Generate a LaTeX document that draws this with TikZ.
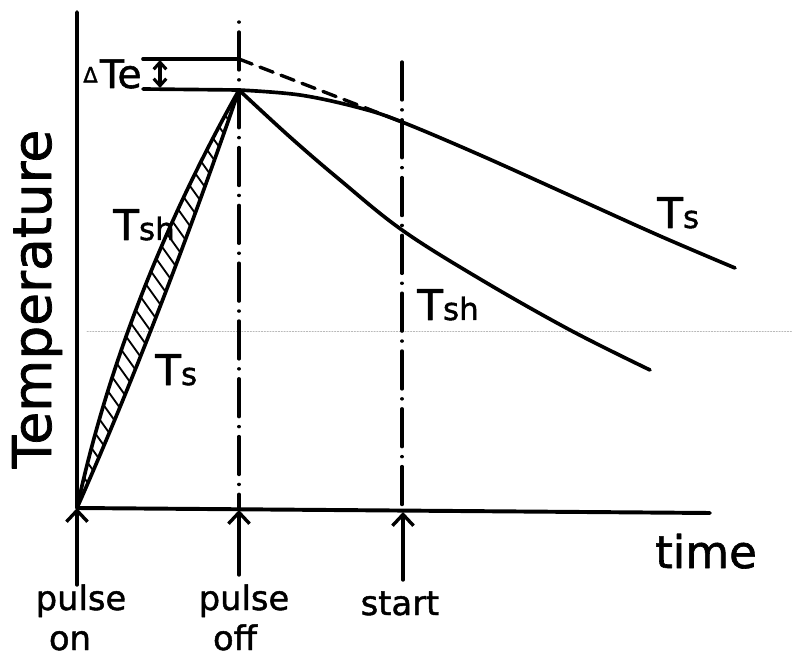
\documentclass[tikz,border=0pt]{standalone}
\usepackage{fontspec}
\setmainfont{DejaVu Sans}[BoldFont={DejaVu Sans}, BoldFeatures={FakeBold=1.4}]
\usetikzlibrary{arrows.meta}

\newcommand{\Tlab}[1]{{\fontsize{30}{30}\selectfont T}{\fontsize{22}{22}\selectfont #1}}

\begin{document}
\begin{tikzpicture}[
  x=0.025cm, y=-0.025cm,
  line cap=round, line join=round,
  every node/.style={font=\bfseries},
  axis/.style={line width=2.8pt},
  curve/.style={line width=2.6pt},
  marker/.style={line width=2.4pt, dash pattern=on 0.1pt off 7pt on 27pt off 7pt},
  event/.style={line width=2.4pt, -{Straight Barb[length=8pt,width=15pt]}},
  hatch/.style={line width=1.3pt},
  tlabel/.style={inner sep=0pt, anchor=base west},
  word/.style={inner sep=0pt, anchor=base, font=\bfseries\fontsize{24}{26}\selectfont}
]
  \useasboundingbox (0,0) rectangle (792,657);

  % scan line
  \draw[gray!55, line width=0.4pt, dash pattern=on 1pt off 1pt] (87,331) -- (792,331);

  \coordinate (origin) at (77,508);
  \coordinate (ytop) at (77,12);
  \coordinate (xend) at (710,513);
  \coordinate (peak) at (239,90);
  \coordinate (peaktop) at (239,59);
  \coordinate (startTs) at (402,122);

  % axes
  \draw[axis] (ytop) -- (origin) -- (xend);

  % pulse off / start lines
  \draw[marker] (239,22) -- (239,508);
  \draw[marker, dash phase=7.1pt] (402,62) -- (402,511);

  % rise: hatched band between Tsh and Ts
  \begin{scope}
    \clip (origin) .. controls (107,369) and (161,229) .. (peak)
          .. controls (190,232) and (137,372) .. (origin) -- cycle;
    \foreach \c in {-240,-220,...,400}
      \draw[hatch] (0,\c) -- (300,\c+420);
  \end{scope}
  \draw[curve] (origin) .. controls (107,369) and (161,229) .. (peak);
  \draw[curve] (origin) .. controls (137,372) and (190,232) .. (peak);

  % decay
  \draw[curve] plot[smooth, tension=0.6] coordinates {(peak) (300,95) (360,108) (startTs) (480,155) (580,200) (660,236) (735,268)};
  \draw[curve] plot[smooth, tension=0.6] coordinates {(peak) (290,137) (340,180) (402,230) (480,279) (570,330) (650,370)};
  \draw[line width=2.4pt, dash pattern=on 10pt off 6pt] (peaktop) -- (startTs);

  % Delta Te
  \coordinate (dtop) at (143,59);
  \coordinate (dbot) at (143,89);
  \draw[curve] (dtop) -- (peaktop);
  \draw[curve] (dbot) -- (peak);
  \draw[line width=2.2pt, {Straight Barb[length=5pt,width=9pt]}-{Straight Barb[length=5pt,width=9pt]}] (160,60) -- (160,88);
  \node[tlabel] (dte) at (83,88) {\raisebox{4pt}{\fontsize{15}{15}\selectfont Δ}\,{\fontsize{28}{28}\selectfont Te}};

  % curve labels
  \node[tlabel] (tshup) at (113,240) {\Tlab{sh}};
  \node[tlabel] (tsup) at (155,385) {\Tlab{s}};
  \node[tlabel] (tshdown) at (417,320) {\Tlab{sh}};
  \node[tlabel] (tsdown) at (657,228) {\Tlab{s}};

  % axis labels
  \node[inner sep=0pt, anchor=base, rotate=90, font=\bfseries\fontsize{38}{38}\selectfont] (templabel) at (51,299) {Temperature};
  \node[inner sep=0pt, anchor=base, font=\bfseries\fontsize{32}{32}\selectfont] (timelabel) at (706,568) {time};

  % events
  \coordinate (onfoot) at (77,585);
  \coordinate (offfoot) at (239,575);
  \coordinate (offhead) at (239,510);
  \coordinate (startfoot) at (403,580);
  \coordinate (starthead) at (403,512);
  \draw[event] (onfoot) -- (origin);
  \draw[event] (offfoot) -- (offhead);
  \draw[event] (startfoot) -- (starthead);

  \node[word] (pulse1) at (81,610) {pulse};
  \node[word] (onword) at (70,650) {on};
  \node[word] (pulse2) at (244,610) {pulse};
  \node[word] (offword) at (235,650) {off};
  \node[word] (startword) at (400,615) {start};
\end{tikzpicture}
\end{document}
